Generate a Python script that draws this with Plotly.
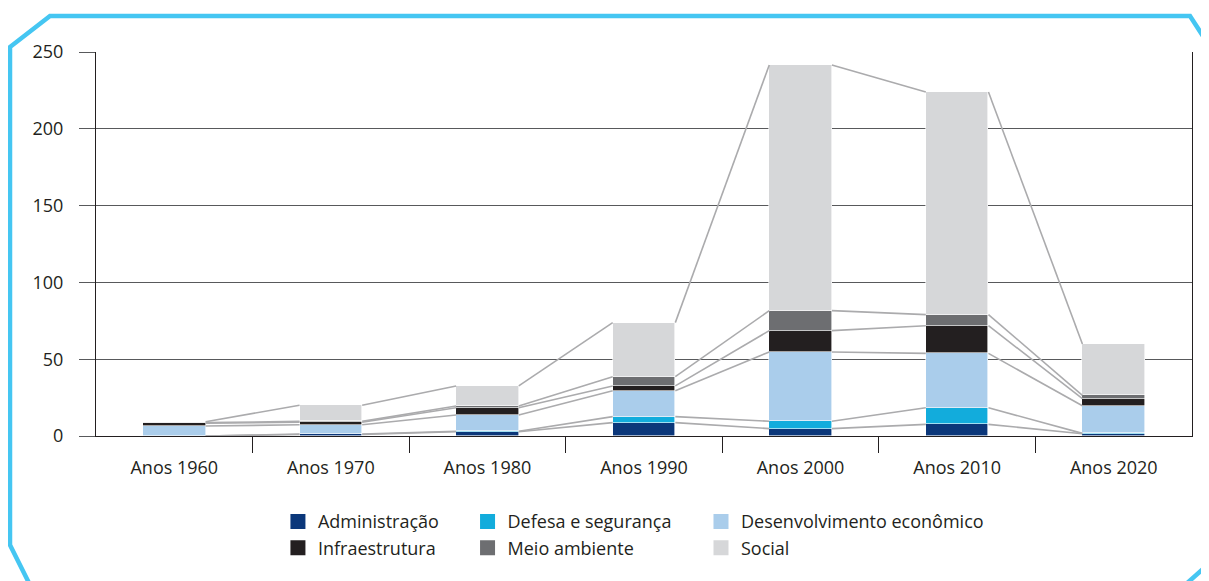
import plotly.graph_objects as go

# Data
decadas = ["Anos 1960", "Anos 1970", "Anos 1980", "Anos 1990", "Anos 2000", "Anos 2010", "Anos 2020"]
administracao = [0, 1.0, 2.8, 8.7, 4.8, 7.6, 1.5]
defesa = [0, 0.3, 0.3, 3.9, 4.8, 10.8, 0.2]
desenvolvimento = [6.5, 6.0, 10.6, 16.9, 45.1, 35.4, 18.0]
infraestrutura = [1.8, 1.7, 4.7, 3.1, 13.9, 18.0, 4.6]
meio_ambiente = [0.4, 0.5, 1.1, 6.0, 13.0, 7.2, 2.2]
social = [0.6, 10.5, 13.1, 35.2, 160.0, 145.0, 33.4]

series = [
    ("Administração", administracao, "#0B377A", "legend"),
    ("Defesa e segurança", defesa, "#12ACDC", "legend2"),
    ("Desenvolvimento econômico", desenvolvimento, "#AACDEB", "legend3"),
    ("Infraestrutura", infraestrutura, "#231F20", "legend"),
    ("Meio ambiente", meio_ambiente, "#6D6E71", "legend2"),
    ("Social", social, "#D6D7D9", "legend3"),
]

bar_w = 0.4
xs = list(range(len(decadas)))
font = "Open Sans, Noto Sans, sans-serif"

fig = go.Figure()

# series lines between the bars (top of each cumulative segment)
cum = [0] * len(decadas)
for name, vals, color, leg in series:
    cum = [c + v for c, v in zip(cum, vals)]
    lx, ly = [], []
    for i in range(len(decadas) - 1):
        lx += [i + bar_w / 2, i + 1 - bar_w / 2, None]
        ly += [cum[i], cum[i + 1], None]
    fig.add_trace(go.Scatter(x=lx, y=ly, mode="lines", line=dict(color="#ABABAD", width=1.6),
                             showlegend=False, hoverinfo="skip"))

for name, vals, color, leg in series:
    fig.add_trace(go.Bar(x=xs, y=vals, name=name, width=bar_w, legendgroup=name, showlegend=False,
                         marker=dict(color=color, line=dict(color="white", width=0.6))))
    # legend entry with a bigger square symbol
    fig.add_trace(go.Scatter(x=[None], y=[None], mode="markers", name=name, legend=leg,
                             legendgroup=name,
                             marker=dict(symbol="square", size=15, color=color)))

# moldura ciano (plot area: 96..1192 x 52..436 na página)
def px2paper(px, py):
    return (px - 96) / 1096, (436 - py) / 384

frame = [(1212, 50), (1190, 16), (50, 16), (10, 47), (10, 545), (30, 585)]
frame_r = [(1185, 585), (1212, 561)]
path = "M " + " L ".join("%f,%f" % px2paper(*p) for p in frame)
path_r = "M " + " L ".join("%f,%f" % px2paper(*p) for p in frame_r)
for pth in (path, path_r):
    fig.add_shape(type="path", path=pth, xref="paper", yref="paper",
                  line=dict(color="#45C6F2", width=4.5), layer="below")

leg_common = dict(orientation="v", yanchor="top", xanchor="left", y=-0.175,
                  font=dict(family=font, size=18, color="#231F20"),
                  bgcolor="rgba(0,0,0,0)", tracegroupgap=10, traceorder="normal",
                  itemclick=False)

# the page adds an 8px body margin, so the margins are shifted by 8px
fig.update_layout(
    barmode="stack",
    width=1209, height=581,
    margin=dict(l=88, r=25, t=44, b=153),
    plot_bgcolor="white", paper_bgcolor="white",
    font=dict(family=font, size=18, color="#231F20"),
    bargap=0,
    legend=dict(x=0.166, **leg_common),
    legend2=dict(x=0.339, **leg_common),
    legend3=dict(x=0.552, **leg_common),
)

fig.update_xaxes(
    range=[-0.5, len(decadas) - 0.5],
    tickmode="array", tickvals=xs, ticktext=decadas,
    ticks="", ticklabelstandoff=15,
    showgrid=False, zeroline=False,
    showline=True, linecolor="#231F20", linewidth=1.2,
    minor=dict(tickmode="array", tickvals=[i + 0.5 for i in xs[:-1]],
               ticks="outside", ticklen=16, tickcolor="#231F20", tickwidth=1.2, showgrid=False),
)

fig.update_yaxes(
    range=[0, 250], tickvals=[0, 50, 100, 150, 200, 250],
    ticks="outside", ticklen=16, tickcolor="#58595B", tickwidth=1,
    ticklabelstandoff=12,
    showgrid=True, gridcolor="#58595B", gridwidth=1,
    zeroline=False,
    showline=True, linecolor="#231F20", linewidth=1.2, mirror=True,
)

fig.write_html("out.html")
